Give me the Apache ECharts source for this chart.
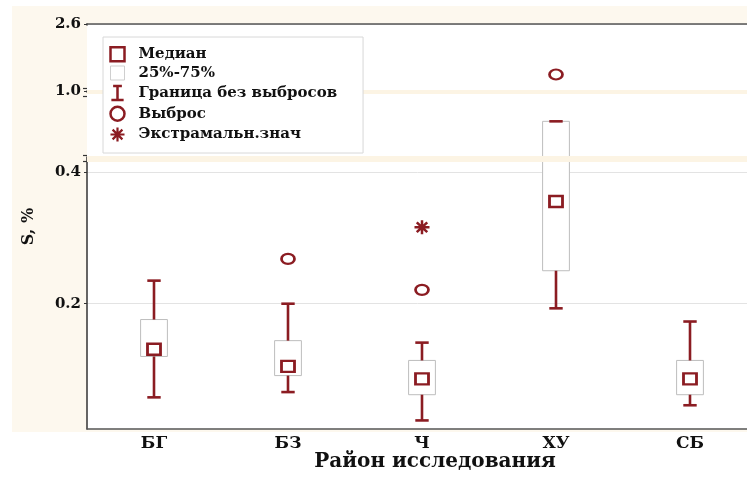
<!DOCTYPE html>
<html>
<head>
<meta charset="utf-8">
<script src="https://cdn.jsdelivr.net/npm/echarts@6.0.0/dist/echarts.min.js"></script>
<style>
  html, body { margin: 0; padding: 0; background: #fff; }
  #chart { width: 747px; height: 477px; }
</style>
</head>
<body>
<div id="chart"></div>
<script>
// районы
const categories = ["БГ", "БЗ", "Ч", "ХУ", "СБ"];

// box plot values, S %
const whiskerLow = [0.058, 0.066, 0.023, 0.193, 0.046];
const q1 = [0.120, 0.091, 0.062, 0.250, 0.062];
const median = [0.131, 0.105, 0.086, 0.355, 0.086];
const q3 = [0.176, 0.144, 0.114, 0.738, 0.114];
const whiskerHigh = [0.235, 0.200, 0.141, 0.738, 0.173];

// [category index, value]
const outliers = [[1, 0.268], [2, 0.221], [3, 1.39]];
const extremes = [[2, 0.316]];

const yTickLabels = [0.2, 0.4, 1.0, 2.6];
const yBreakMarks = [0.416, 0.436, 0.96, 1.05];

const RED = "#8b1c22";
const FONT = "DejaVu Serif";
const ASTERISK = "path://M0,-10L0,10M-10,0L10,0M-7,-7L7,7M-7,7L7,-7";
const IBEAM = "path://M-5,-8L5,-8M0,-8L0,8M-7,8L7,8";

// axis breaks (the chart uses three stacked scales)
const yBreaks = [
  { start: 0.4227, end: 0.999, gap: 0.0985 },
  { start: 1.001, end: 2.599, gap: 0.1 }
];

const boxData = categories.map((c, i) => [i, q1[i], q3[i]]);
const whiskerData = categories.map((c, i) => [i, whiskerLow[i], q1[i], q3[i], whiskerHigh[i]]);
const medianData = categories.map((c, i) => [i, median[i]]);

function renderBox(params, api) {
  const x = api.value(0);
  const lo = api.coord([x, api.value(1)]);
  const hi = api.coord([x, api.value(2)]);
  const w = api.size([1, 0])[0] * 0.2;
  return {
    type: "rect",
    shape: { x: lo[0] - w / 2, y: hi[1], width: w, height: lo[1] - hi[1] },
    style: { fill: "#fff", stroke: "#bdbdbd", lineWidth: 1 }
  };
}

function renderWhisker(params, api) {
  const x = api.value(0);
  const pLow = api.coord([x, api.value(1)]);
  const pQ1 = api.coord([x, api.value(2)]);
  const pQ3 = api.coord([x, api.value(3)]);
  const pHigh = api.coord([x, api.value(4)]);
  const half = api.size([1, 0])[0] * 0.05;
  const style = { stroke: RED, lineWidth: 2.6 };
  const line = (x1, y1, x2, y2) => ({ type: "line", shape: { x1, y1, x2, y2 }, style });
  return {
    type: "group",
    children: [
      line(pLow[0], pLow[1], pQ1[0], pQ1[1]),
      line(pQ3[0], pQ3[1], pHigh[0], pHigh[1]),
      line(pLow[0] - half, pLow[1], pLow[0] + half, pLow[1]),
      line(pHigh[0] - half, pHigh[1], pHigh[0] + half, pHigh[1])
    ]
  };
}

const chart = echarts.init(document.getElementById("chart"), null, { renderer: "canvas" });

const yCommon = {
  type: "value",
  min: 0.01,
  max: 2.6,
  breaks: yBreaks,
  breakArea: { show: false }
};

const option = {
  animation: false,
  backgroundColor: "#fff",
  graphic: [
    {
      type: "rect",
      silent: true,
      z: -10,
      shape: { x: 12, y: 6, width: 735, height: 426 },
      style: { fill: "#fdf8ee" }
    }
  ],
  grid: {
    left: 87, top: 24, right: -10, bottom: 48,
    outerBoundsMode: "none",
    containLabel: false,
    show: true, backgroundColor: "#fff", borderWidth: 0
  },
  legend: {
    orient: "vertical",
    left: 103, top: 37,
    z: 20,
    padding: [9, 26, 9, 5],
    itemGap: 3,
    itemWidth: 14,
    itemHeight: 14,
    backgroundColor: "#fff",
    borderColor: "#d8d8d8",
    borderWidth: 1,
    textStyle: {
      fontFamily: FONT, fontWeight: "bold", fontSize: 15, color: "#111",
      lineHeight: 14, padding: [0, 0, 0, 9]
    },
    data: [
      { name: "Медиан", icon: "rect", itemStyle: { color: "#fff", borderColor: RED, borderWidth: 2.5 } },
      { name: "25%-75%", icon: "rect", itemStyle: { color: "#fff", borderColor: "#cfcfcf", borderWidth: 1 } },
      { name: "Граница без выбросов", icon: IBEAM, itemStyle: { color: "none", borderColor: RED, borderWidth: 2.5 } },
      { name: "Выброс", icon: "circle", itemStyle: { color: "#fff", borderColor: RED, borderWidth: 2.5 } },
      { name: "Экстрамальн.знач", icon: ASTERISK, itemStyle: { color: "none", borderColor: RED, borderWidth: 2.2 } }
    ]
  },
  xAxis: [
    {
      type: "category",
      data: categories,
      boundaryGap: true,
      axisLine: { lineStyle: { color: "#555", width: 1.5 } },
      axisTick: { alignWithLabel: true, inside: true, length: 3, lineStyle: { color: "#555" } },
      axisLabel: { fontFamily: FONT, fontWeight: "bold", fontSize: 17, color: "#111", margin: 6 },
      splitLine: { show: false },
      name: "Район исследования",
      nameLocation: "middle",
      nameGap: 23,
      nameMoveOverlap: false,
      nameTextStyle: { fontFamily: FONT, fontWeight: "bold", fontSize: 20, color: "#111", padding: [0, 0, 0, 26] }
    },
    {
      type: "category",
      position: "top",
      data: categories,
      boundaryGap: true,
      axisLine: { lineStyle: { color: "#555", width: 1.5 } },
      axisTick: { alignWithLabel: true, inside: true, length: 3, lineStyle: { color: "#555" } },
      axisLabel: { show: false },
      splitLine: { show: false }
    }
  ],
  yAxis: [
    Object.assign({}, yCommon, {
      axisLine: { show: true, lineStyle: { color: "#333", width: 1.5 } },
      axisTick: { show: true, customValues: yTickLabels, length: 3, lineStyle: { color: "#333" } },
      axisLabel: {
        customValues: yTickLabels,
        fontFamily: FONT, fontWeight: "bold", fontSize: 15, color: "#111", margin: 6,
        formatter: (v) => v.toFixed(1)
      },
      splitLine: { show: true, lineStyle: { color: "#e3e3e3", width: 1 } },
      name: "S, %",
      nameLocation: "middle",
      nameGap: 50,
      nameTextStyle: { fontFamily: FONT, fontWeight: "bold", fontSize: 16, color: "#111" }
    }),
    // break marks on the axis
    Object.assign({}, yCommon, {
      position: "left",
      axisLine: { show: false },
      axisTick: { show: true, customValues: yBreakMarks, length: 4, lineStyle: { color: "#333", width: 1.2 } },
      axisLabel: { show: false },
      splitLine: { show: false }
    })
  ],
  series: [
    {
      name: "25%-75%",
      type: "custom",
      renderItem: renderBox,
      data: boxData,
      encode: { x: 0, y: [1, 2] },
      z: 3,
      markLine: {
        silent: true,
        symbol: "none",
        label: { show: false },
        data: [
          { yAxis: 1.0, lineStyle: { color: "#fcf4e4", width: 4, type: "solid" } },
          { yAxis: 0.4227, lineStyle: { color: "#fcf4e4", width: 6, type: "solid" } }
        ]
      }
    },
    {
      name: "Граница без выбросов",
      type: "custom",
      renderItem: renderWhisker,
      data: whiskerData,
      encode: { x: 0, y: [1, 2, 3, 4] },
      z: 4
    },
    {
      name: "Медиан",
      type: "scatter",
      data: medianData,
      symbol: "rect",
      symbolSize: [13, 11],
      itemStyle: { color: "#fff", borderColor: RED, borderWidth: 2.6, opacity: 1 },
      z: 5
    },
    {
      name: "Выброс",
      type: "scatter",
      data: outliers,
      symbol: "circle",
      symbolSize: [13, 10],
      itemStyle: { color: "#fff", borderColor: RED, borderWidth: 2.4, opacity: 1 },
      z: 5
    },
    {
      name: "Экстрамальн.знач",
      type: "scatter",
      data: extremes,
      symbol: ASTERISK,
      symbolSize: [15, 14],
      itemStyle: { color: "none", borderColor: RED, borderWidth: 2.4, opacity: 1 },
      z: 5
    }
  ]
};

chart.setOption(option);
</script>
</body>
</html>
